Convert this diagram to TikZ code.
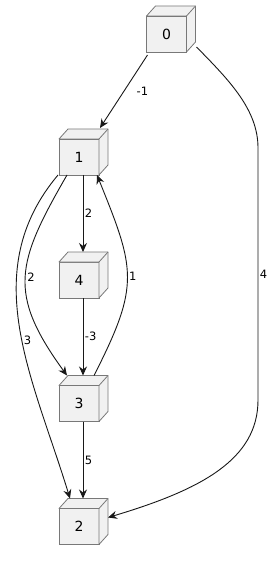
\documentclass[tikz,border=0pt]{standalone}
\usepackage{fontspec}
\setmainfont{DejaVu Sans}
\usetikzlibrary{arrows.meta, calc}
\definecolor{CubeFill}{RGB}{241, 241, 241}
\definecolor{CubeBorder}{RGB}{120, 120, 120}
\definecolor{LinkDark}{RGB}{24, 24, 24}

\tikzset{
  cubebox/.style={draw=CubeBorder, fill=CubeFill, line width=0.8pt,
    minimum width=40pt, minimum height=36pt, inner sep=0pt, outer sep=0pt,
    font=\fontsize{14}{16}\selectfont},
  cubeside/.style={draw=CubeBorder, fill=CubeFill, line width=0.8pt, line join=round},
  link/.style={draw=LinkDark, line width=0.9pt,
    -{Stealth[length=9pt, width=8pt, inset=3pt]}},
  weight/.style={font=\fontsize{11.5}{13}\selectfont, inner sep=1.5pt}
}

% top and right faces of a cube node
\newcommand{\cubefaces}[1]{%
  \filldraw[cubeside] (#1.north west) -- ++(9,10) -- ++(40,0) -- ++(0,-36)
    -- (#1.south east) -- (#1.north east) -- cycle;
  \draw[cubeside] (#1.north east) -- ++(9,10);
}

\begin{document}
\begin{tikzpicture}[x=1pt, y=1pt]
    \useasboundingbox (0,0) rectangle (274,-561);

    \node[cubebox] (n0) at (166.5,-34) {0};
    \node[cubebox] (n1) at (79,-157) {1};
    \node[cubebox] (n4) at (79,-280) {4};
    \node[cubebox] (n3) at (79,-403.5) {3};
    \node[cubebox] (n2) at (79,-526.5) {2};
    \cubefaces{n0}
    \cubefaces{n1}
    \cubefaces{n4}
    \cubefaces{n3}
    \cubefaces{n2}

    % weighted links
    \draw[link] ([shift={(1,-3)}]n0.south west) -- node[weight, right, xshift=11pt] {-1}
      ([shift={(1,11)}]n1.north east);
    \draw[link] ([shift={(10,5)}]n0.south east)
      .. controls (230,-81) and (258,-110) .. (258,-148)
      -- node[weight, right] {4} (258,-400)
      .. controls (258,-460) and (200,-490) .. ([shift={(9,-9)}]n2.north east);
    \draw[link] ([xshift=4pt]n1.south) -- node[weight, right] {2} ([shift={(4,10)}]n4.north);
    \draw[link] ([xshift=-12pt]n1.south) to[out=-120, in=126, looseness=1.3]
      node[weight, right, pos=0.5] {2} ([shift={(-12,10)}]n3.north);
    \draw[link] ([xshift=-1pt]n1.south west) to[out=-130, in=107]
      node[weight, right, pos=0.54] {3} ([shift={(-9,10)}]n2.north);
    \draw[link] ([xshift=4pt]n4.south) -- node[weight, right] {-3} ([shift={(4,10)}]n3.north);
    \draw[link] ([shift={(15,10)}]n3.north) to[out=63, in=-68, looseness=1.3]
      node[weight, right, pos=0.5] {1} ([xshift=-2pt]n1.south east);
    \draw[link] ([xshift=4pt]n3.south) -- node[weight, right] {5} ([shift={(4,10)}]n2.north);
  \end{tikzpicture}
\end{document}
